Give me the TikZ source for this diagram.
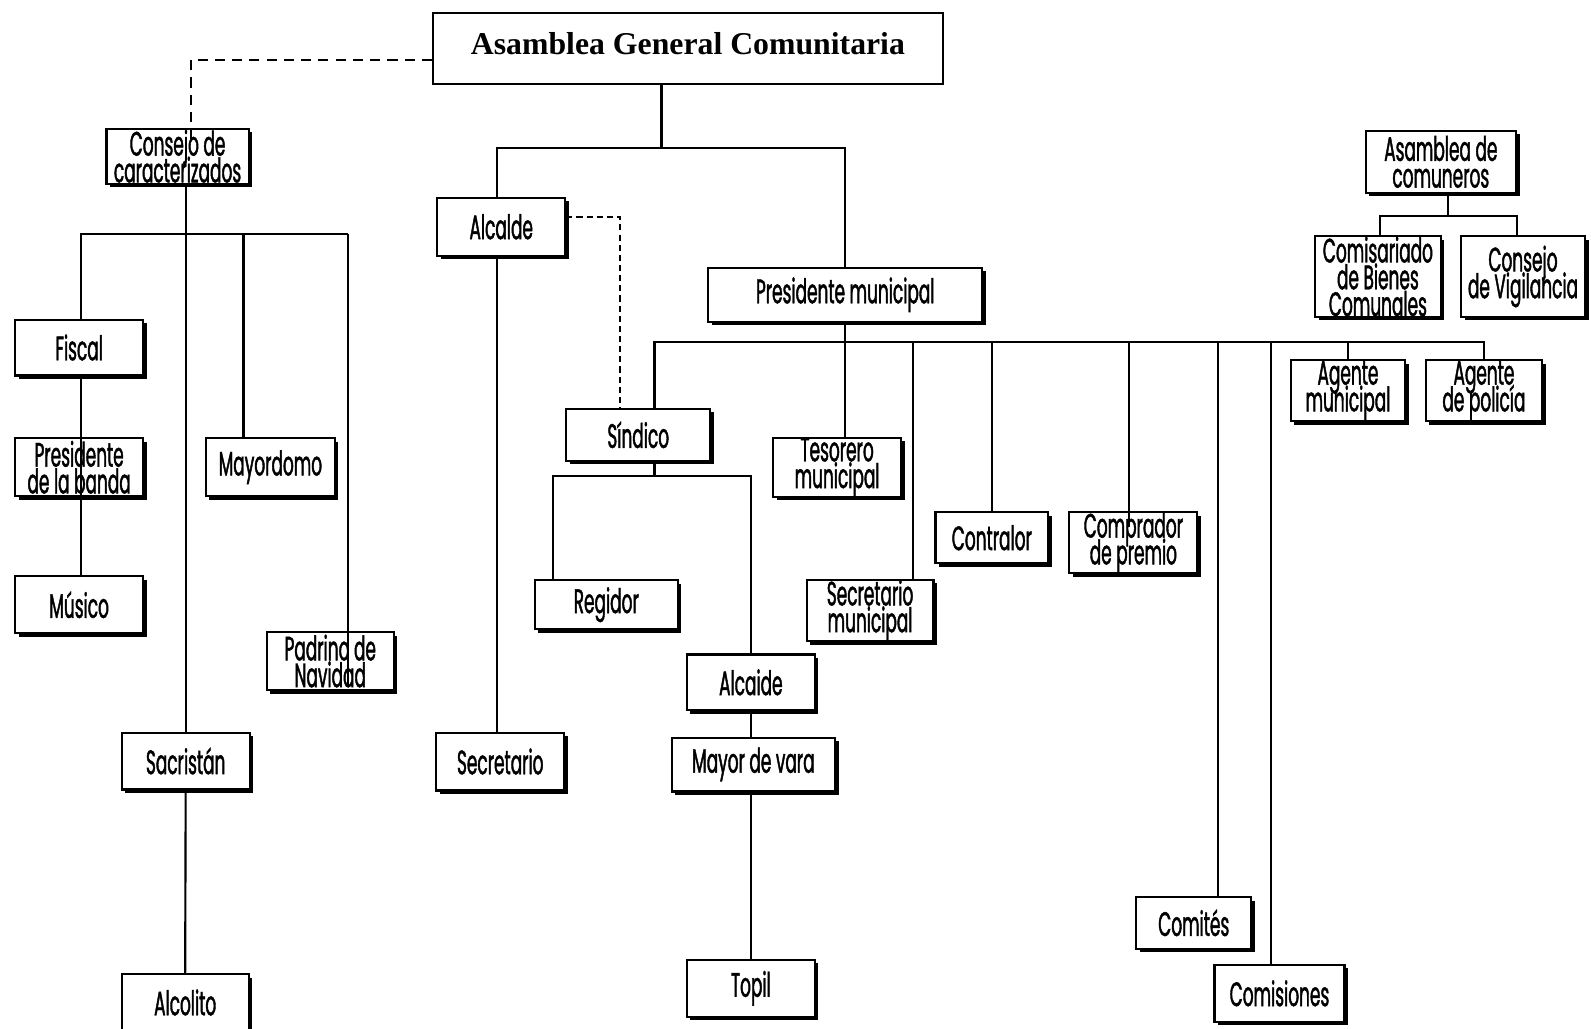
\documentclass[tikz,border=0pt]{standalone}
\usepackage{fontspec}
\setmainfont{Liberation Serif}
\newfontfamily\orgfont{Poppins}[FakeStretch=0.5, FakeBold=1.2]
\usetikzlibrary{shadows}
\pgfdeclarelayer{background}
\pgfsetlayers{background,main}

\tikzset{
  orgbox/.style={draw, line width=0.6pt, fill=white, rectangle, inner sep=0pt,
    align=center, font={\orgfont\fontsize{9.5}{7.5}\selectfont\lineskiplimit=-20pt\lineskip=0pt},
    drop shadow={shadow xshift=0.035cm, shadow yshift=-0.035cm, opacity=1, fill=black}},
  topbox/.style={draw, line width=0.6pt, fill=white, rectangle, inner sep=0pt,
    font={\bfseries\fontsize{8.9}{10}\selectfont}},
  link/.style={line width=0.6pt},
  longdash/.style={line width=0.6pt, dash pattern=on 0.1cm off 0.07cm},
  shortdash/.style={line width=0.6pt, dash pattern=on 0.06cm off 0.04cm},
}

\begin{document}
\begin{tikzpicture}[x=0.01cm, y=-0.01cm]
\useasboundingbox (0,0) rectangle (1568,1014);
\clip (0,0) rectangle (1568,1014);

% ---- boxes ----
\node[topbox, minimum width=5.02cm, minimum height=0.70cm] (agc) at (678,48) {\raisebox{0.1cm}{Asamblea General Comunitaria}};

\node[orgbox, minimum width=1.40cm, minimum height=0.54cm] (consejo) at (175,154) {Consejo de\\caracterizados};
\node[orgbox, minimum width=1.26cm, minimum height=0.55cm] (fiscal) at (78,342.5) {Fiscal};
\node[orgbox, minimum width=1.26cm, minimum height=0.57cm] (banda) at (78,460.5) {Presidente\\de la banda};
\node[orgbox, minimum width=1.26cm, minimum height=0.56cm] (musico) at (78,596) {Músico};
\node[orgbox, minimum width=1.27cm, minimum height=0.57cm] (mayordomo) at (266.5,460.5) {Mayordomo};
\node[orgbox, minimum width=1.25cm, minimum height=0.57cm] (padrino) at (325.5,651.5) {Padrino de\\Navidad};
\node[orgbox, minimum width=1.26cm, minimum height=0.56cm] (sacristan) at (183,750) {Sacristán};
\node[orgbox, minimum width=1.25cm, minimum height=0.56cm] (alcolito) at (182.5,988) {Alcolito};

\node[orgbox, minimum width=1.26cm, minimum height=0.57cm] (alcalde) at (494,223.5) {Alcalde};
\node[orgbox, minimum width=1.26cm, minimum height=0.57cm] (secretario) at (493,750.5) {Secretario};
\node[orgbox, minimum width=2.70cm, minimum height=0.53cm] (presidente) at (833,290.5) {Presidente municipal};
\node[orgbox, minimum width=1.42cm, minimum height=0.51cm] (sindico) at (629,428.5) {Síndico};
\node[orgbox, minimum width=1.26cm, minimum height=0.57cm] (tesorero) at (825,460.5) {Tesorero\\municipal};
\node[orgbox, minimum width=1.41cm, minimum height=0.48cm] (regidor) at (597.5,596) {Regidor};
\node[orgbox, minimum width=1.26cm, minimum height=0.55cm] (alcaide) at (740,672.5) {Alcaide};
\node[orgbox, minimum width=1.61cm, minimum height=0.53cm] (mayor) at (742.5,753.5) {Mayor de vara};
\node[orgbox, minimum width=1.26cm, minimum height=0.56cm] (topil) at (740,974) {Topil};
\node[orgbox, minimum width=1.25cm, minimum height=0.57cm] (secmun) at (857.5,601.5) {Secretario\\municipal};
\node[orgbox, minimum width=1.11cm, minimum height=0.50cm] (contralor) at (977.5,530) {Contralor};
\node[orgbox, minimum width=1.26cm, minimum height=0.60cm] (comprador) at (1117,535) {Comprador\\de premio};
\node[orgbox, minimum width=1.13cm, minimum height=0.51cm] (comites) at (1176.5,909.5) {Comités};
\node[orgbox, minimum width=1.28cm, minimum height=0.56cm] (comisiones) at (1261,979) {Comisiones};
\node[orgbox, minimum width=1.13cm, minimum height=0.60cm] (agmun) at (1328.5,385) {Agente\\municipal};
\node[orgbox, minimum width=1.15cm, minimum height=0.60cm] (agpol) at (1462.5,385) {Agente\\de policía};

\node[orgbox, minimum width=1.48cm, minimum height=0.61cm] (asamcom) at (1420,159.5) {Asamblea de\\comuneros};
\node[orgbox, minimum width=1.24cm, minimum height=0.79cm] (comisariado) at (1358,272.5) {Comisariado\\de Bienes\\Comunales};
\node[orgbox, minimum width=1.22cm, minimum height=0.79cm] (vigilancia) at (1501,272.5) {Consejo\\de Vigilancia};

% ---- junction points ----
\coordinate (j1) at (652,146);
\coordinate (dj) at (188,59);
\coordinate (dk) at (611,214);
\coordinate (aX) at (490,0);
\coordinate (cL) at (80,231);
\coordinate (cR) at (343,231);
\coordinate (cM) at (240,231);
\coordinate (pL) at (645,337);
\coordinate (pR) at (1462.5,337);
\coordinate (sL) at (545,469);
\coordinate (sM) at (645,469);
\coordinate (sR) at (740,469);
\coordinate (aL) at (1360,213);
\coordinate (aM) at (1427,213);
\coordinate (aR) at (1495,213);

% ---- connectors behind the boxes ----
\begin{pgfonlayer}{background}
  % main assembly
  \draw[link] (agc.south -| j1) -- (j1);
  \draw[link] (alcalde.north -| aX) |- (j1) -| (presidente.north);
  \draw[link] (alcalde.south -| aX) -- (secretario.north -| aX);
  % council of the characterized
  \draw[link] (consejo.south -| sacristan.north) -- (sacristan.north);
  \draw[link] (fiscal.north -| cL) |- (cR);
  \draw[link] (cM) -- (cM |- mayordomo.north);
  \draw[link] (sacristan.south) -- (alcolito.north);
  % municipal president
  \draw[link] (presidente.south) -- (presidente.south |- tesorero.north);
  \draw[link] (pL |- sindico.north) -- (pL) -- (pR) -- (agpol.north);
  \draw[link] (secmun.north -| 900,0) -- (900,337);
  \draw[link] (contralor.north) -- (contralor.north |- pL);
  \draw[link] (comites.north -| 1200,0) -- (1200,337);
  \draw[link] (comisiones.north -| 1253,0) -- (1253,337);
  \draw[link] (agmun.north) -- (agmun.north |- pL);
  % síndico
  \draw[link] (sindico.south -| sM) -- (sM);
  \draw[link] (regidor.north -| sL) |- (sR) -- (alcaide.north);
  \draw[link] (alcaide.south) -- (alcaide.south |- mayor.north);
  \draw[link] (mayor.south -| topil.north) -- (topil.north);
  % communal assembly
  \draw[link] (asamcom.south -| aM) -- (aM);
  \draw[link] (comisariado.north -| aL) |- (aR) -- (vigilancia.north -| aR);
\end{pgfonlayer}

% ---- connectors running over the boxes ----
\draw[longdash] (agc.west |- dj) -- (dj) -- ([yshift=-0.14cm]dj |- consejo.north);
\draw[shortdash] (alcalde.east |- dk) -- (dk) -- (dk |- sindico.north);
\draw[link] (fiscal.south -| cL) -- (musico.north -| cL);
\draw[link] (cR) -- ([yshift=0.05cm]cR |- padrino.south);
\draw[link] (1113,337) -- ([yshift=-0.15cm]comprador.north -| 1113,0);
\end{tikzpicture}
\end{document}
